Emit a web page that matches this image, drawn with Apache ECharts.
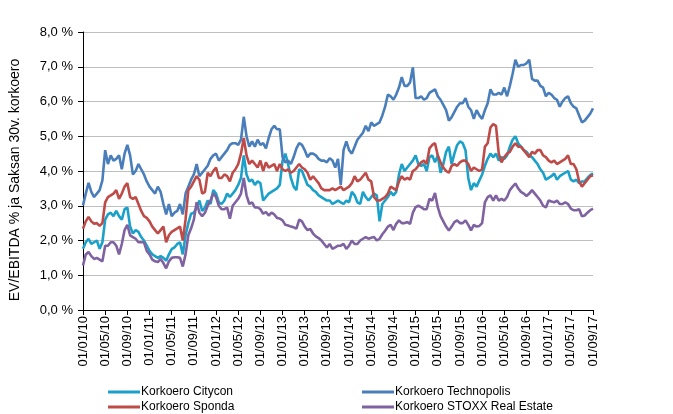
<!DOCTYPE html>
<html>
<head>
<meta charset="utf-8">
<script src="https://cdn.jsdelivr.net/npm/echarts@6/dist/echarts.min.js"></script>
<style>html,body{margin:0;padding:0;background:#fff;}#c{width:673px;height:414px;}</style>
</head>
<body>
<div id="c"></div>
<script>
// Semi-monthly observations (1st and 16th of each month), 01/01/2010 .. 01/09/2017
const START_YEAR = 2010;
const MONTHS = 92;

const SERIES_NAMES = ['Korkoero Citycon', 'Korkoero Technopolis', 'Korkoero Sponda', 'Korkoero STOXX Real Estate'];

const CITYCON = [
  1.76, 1.95, 2.05, 1.9, 1.95, 2.0, 1.76, 1.95, 2.6, 2.75, 2.8, 2.7, 2.85, 2.7, 2.6, 2.9, 2.95, 2.4, 2.2, 2.3, 2.25, 2.1, 2.0, 1.85,
  1.7, 1.6, 1.55, 1.5, 1.55, 1.5, 1.42, 1.6, 1.75, 1.8, 1.9, 1.95, 1.6, 2.15, 2.5, 2.77, 2.8, 2.95, 3.15, 2.85, 2.95, 3.15, 3.05, 3.45,
  3.35, 3.1, 3.05, 3.15, 3.35, 3.25, 3.35, 3.45, 3.6, 3.8, 4.45, 3.9, 3.7, 3.75, 3.6, 3.7, 3.65, 3.15, 3.25, 3.35, 3.4, 3.45, 3.5, 3.6,
  4.3, 4.5, 4.2, 3.8, 3.55, 3.45, 4.05, 4.0, 3.8, 3.6, 3.55, 3.45, 3.4, 3.3, 3.25, 3.2, 3.15, 3.15, 3.05, 3.1, 3.15, 3.1, 3.05, 3.15,
  3.1, 3.4, 3.3, 3.1, 3.05, 3.4, 3.25, 3.15, 3.25, 3.35, 3.3, 2.55, 3.05, 3.15, 3.25, 3.4, 3.3, 3.4, 3.9, 4.2, 4.0, 4.1, 4.2, 4.3,
  4.45, 4.2, 4.15, 4.2, 4.0, 4.4, 4.45, 4.25, 4.45, 3.95, 4.2, 4.55, 4.7, 4.2, 4.5, 4.75, 4.85, 4.8, 4.6, 3.8, 3.45, 3.65, 3.55, 3.73,
  3.9, 4.15, 4.35, 4.5, 4.4, 4.5, 4.3, 4.4, 4.35, 4.45, 4.7, 4.9, 5.0, 4.8, 4.7, 4.6, 4.55, 4.45, 4.4, 4.3, 4.2, 4.05, 3.95, 3.75,
  3.8, 3.85, 3.93, 3.75, 3.85, 3.9, 3.95, 4.0, 3.75, 3.7, 3.75, 3.65, 3.7, 3.7, 3.8, 3.88, 3.93
];

const TECHNOPOLIS = [
  3.01, 3.35, 3.66, 3.4, 3.25, 3.35, 3.45, 3.73, 4.6, 4.2, 4.45, 4.3, 4.35, 4.45, 4.05, 4.5, 4.75, 4.45, 3.9, 4.0, 4.2, 4.05, 3.9, 3.7,
  3.55, 3.45, 3.35, 3.55, 3.4, 3.05, 2.75, 3.05, 2.7, 2.8, 2.85, 3.05, 2.75, 3.35, 3.55, 3.75, 3.9, 4.2, 3.85, 3.95, 4.05, 4.15, 4.35, 4.45,
  4.5, 4.3, 4.4, 4.5, 4.6, 4.75, 4.8, 4.8, 4.75, 4.9, 5.56, 5.0, 4.7, 4.85, 4.7, 4.9, 4.75, 4.8, 4.65, 4.95, 5.2, 5.3, 5.2, 5.2,
  4.4, 4.25, 4.3, 4.2, 4.4, 4.65, 4.8, 4.75, 4.6, 4.4, 4.5, 4.5, 4.45, 4.35, 4.3, 4.3, 4.25, 4.37, 4.3, 4.1, 4.35, 3.6, 4.6, 4.85,
  4.6, 4.5, 4.7, 4.9, 5.0, 5.1, 5.3, 5.15, 5.4, 5.3, 5.35, 5.4, 5.6, 5.85, 6.2, 6.15, 6.05, 6.2, 6.4, 6.7, 6.45, 6.45, 6.55, 6.98,
  6.1, 6.1, 6.15, 6.05, 6.1, 6.25, 6.3, 6.35, 6.15, 6.05, 5.9, 5.75, 5.45, 5.55, 5.7, 5.85, 5.95, 5.95, 6.1, 5.85, 5.75, 5.5, 5.75, 5.6,
  5.5, 5.75, 5.95, 6.35, 6.2, 6.2, 6.25, 6.2, 6.4, 6.15, 6.45, 6.8, 7.2, 7.0, 7.05, 7.05, 7.1, 7.2, 6.65, 6.6, 6.6, 6.45, 6.4, 6.15,
  6.25, 6.2, 6.1, 6.05, 5.85, 6.0, 6.1, 6.15, 5.95, 5.85, 5.8, 5.6, 5.4, 5.45, 5.55, 5.65, 5.8
];

const SPONDA = [
  2.34, 2.55, 2.68, 2.55, 2.48, 2.5, 2.42, 2.5, 3.1, 3.25, 3.3, 3.35, 3.45, 3.2, 3.35, 3.55, 3.65, 3.25, 3.2, 3.25, 3.05, 2.85, 2.7, 2.65,
  2.55, 2.4, 2.3, 2.2, 2.3, 2.4, 1.95, 2.15, 2.25, 2.3, 2.35, 2.4, 2.0, 2.6, 3.45, 3.55, 3.7, 3.85, 3.75, 3.35, 3.4, 3.95, 3.85, 4.0,
  4.1, 3.8, 3.8, 3.9, 3.85, 3.7, 3.95, 4.05, 4.2, 4.5, 4.95, 4.45, 4.2, 4.3, 4.2, 4.1, 4.3, 4.0, 4.25, 4.1, 4.15, 4.2, 4.0, 4.2,
  4.05, 4.0, 4.05, 3.95, 4.0, 4.1, 4.2, 4.1, 4.05, 3.95, 3.75, 3.85, 3.75, 3.65, 3.5, 3.45, 3.45, 3.45, 3.5, 3.45, 3.5, 3.55, 3.45, 3.5,
  3.55, 3.65, 3.85, 3.7, 3.75, 3.85, 3.95, 3.75, 3.7, 3.25, 3.15, 3.15, 3.2, 3.25, 3.35, 3.55, 3.5, 3.45, 3.7, 3.85, 3.75, 3.8, 3.75, 4.0,
  4.05, 4.15, 4.25, 4.3, 4.2, 4.65, 4.75, 4.8, 4.45, 4.25, 4.1, 4.0, 3.95, 4.15, 4.2, 4.15, 4.25, 4.3, 4.3, 4.2, 4.0, 4.1, 4.05, 4.0,
  4.05, 4.7, 4.8, 5.25, 5.35, 5.3, 4.5, 4.25, 4.4, 4.5, 4.55, 4.7, 4.8, 4.7, 4.7, 4.6, 4.5, 4.4, 4.55, 4.5, 4.6, 4.6, 4.45, 4.4,
  4.3, 4.25, 4.3, 4.2, 4.25, 4.3, 4.35, 4.45, 4.2, 4.2, 4.05, 3.7, 3.55, 3.65, 3.75, 3.85, 3.88
];

const STOXX = [
  1.28, 1.6, 1.67, 1.55, 1.47, 1.5, 1.45, 1.4, 1.85, 1.85, 1.95, 1.95, 1.85, 1.6, 1.9, 2.3, 2.45, 2.15, 2.1, 2.05, 1.95, 1.95, 1.95, 1.7,
  1.6, 1.45, 1.4, 1.38, 1.47, 1.35, 1.2, 1.4, 1.5, 1.52, 1.52, 1.5, 1.25, 1.6, 2.15, 2.35, 2.6, 3.1, 2.8, 2.7, 2.8, 3.0, 3.15, 3.35,
  3.25, 3.0, 2.9, 2.9, 2.95, 2.63, 3.0, 3.1, 3.2, 3.35, 3.8, 3.3, 3.05, 3.1, 2.95, 2.95, 2.9, 2.77, 2.82, 2.72, 2.8, 2.75, 2.65, 2.63,
  2.58, 2.45, 2.43, 2.4, 2.38, 2.34, 2.6, 2.55, 2.4, 2.3, 2.33, 2.2, 2.12, 2.07, 2.0, 1.9, 1.8, 1.9, 1.76, 1.8, 1.85, 1.85, 1.9, 1.76,
  1.85, 2.0, 1.9, 1.9, 2.0, 2.05, 2.1, 2.05, 2.08, 2.1, 2.0, 2.05, 2.18, 2.28, 2.4, 2.45, 2.3, 2.48, 2.58, 2.5, 2.5, 2.53, 2.48, 2.8,
  2.96, 3.0, 2.96, 2.9, 2.9, 3.2, 3.15, 3.37, 2.96, 2.7, 2.55, 2.4, 2.29, 2.4, 2.53, 2.58, 2.5, 2.5, 2.58, 2.45, 2.29, 2.45, 2.4, 2.42,
  2.5, 3.1, 3.25, 3.3, 3.15, 3.3, 3.15, 3.2, 3.15, 3.25, 3.45, 3.55, 3.64, 3.5, 3.4, 3.35, 3.28, 3.35, 3.45, 3.35, 3.25, 3.15, 3.0, 2.95,
  3.15, 3.12, 3.1, 3.15, 3.05, 3.05, 3.1, 3.05, 2.92, 2.87, 2.87, 2.9, 2.7, 2.72, 2.8, 2.87, 2.92
];

const COLORS = ['#1ba1c9', '#4a7ebb', '#be4b48', '#7f62a0'];

// Category labels dd/mm/yy
function pad(n) { return (n < 10 ? '0' : '') + n; }
const CATEGORIES = [];
for (let m = 0; m <= MONTHS; m++) {
  const y = START_YEAR + Math.floor(m / 12);
  const mo = (m % 12) + 1;
  CATEGORIES.push('01/' + pad(mo) + '/' + pad(y % 100));
  if (m < MONTHS) CATEGORIES.push('16/' + pad(mo) + '/' + pad(y % 100));
}

const chart = echarts.init(document.getElementById('c'), null, { renderer: 'canvas' });
const FONT = 'Liberation Sans, Arial, sans-serif';
const dataArr = [CITYCON, TECHNOPOLIS, SPONDA, STOXX];

function legendBlock(names, left) {
  return {
    data: names,
    orient: 'vertical', left: left, top: 386, height: 40,
    padding: 0,
    icon: 'rect', itemWidth: 32, itemHeight: 3, itemGap: 3,
    textStyle: { fontFamily: FONT, fontSize: 12, color: '#000', padding: [0, 0, 0, -4] }
  };
}

chart.setOption({
  animation: false,
  backgroundColor: '#ffffff',
  textStyle: { fontFamily: FONT },
  grid: { left: 83, right: 80, top: 32, bottom: 104, containLabel: false },
  legend: [
    legendBlock([SERIES_NAMES[0], SERIES_NAMES[2]], 108),
    legendBlock([SERIES_NAMES[1], SERIES_NAMES[3]], 362)
  ],
  xAxis: {
    type: 'category',
    data: CATEGORIES,
    boundaryGap: false,
    axisLine: { lineStyle: { color: '#000', width: 1 } },
    axisTick: { show: true, interval: 7, length: 5, lineStyle: { color: '#000' } },
    axisLabel: {
      interval: 7, rotate: 90, margin: 6,
      fontFamily: FONT, fontSize: 13, color: '#000'
    },
    splitLine: { show: false }
  },
  yAxis: {
    type: 'value',
    min: 0, max: 8, interval: 1,
    name: 'EV/EBITDA % ja Saksan 30v. korkoero',
    nameLocation: 'middle', nameGap: 61, nameRotate: 90,
    nameTextStyle: { fontFamily: FONT, fontSize: 14, color: '#000', padding: [0, 18, 0, 0] },
    axisLine: { show: true, lineStyle: { color: '#000', width: 1 } },
    axisTick: { show: true, length: 5, lineStyle: { color: '#000' } },
    axisLabel: {
      margin: 10, fontFamily: FONT, fontSize: 13, color: '#000',
      formatter: v => v.toFixed(1).replace('.', ',') + ' %'
    },
    splitLine: { show: true, lineStyle: { color: '#bfbfbf', width: 1 } }
  },
  series: SERIES_NAMES.map((n, i) => ({
    name: n,
    type: 'line',
    data: dataArr[i],
    symbol: 'none',
    showSymbol: false,
    lineStyle: { color: COLORS[i], width: 2.6 },
    itemStyle: { color: COLORS[i] },
    z: 2 + i
  }))
});
</script>
</body>
</html>
